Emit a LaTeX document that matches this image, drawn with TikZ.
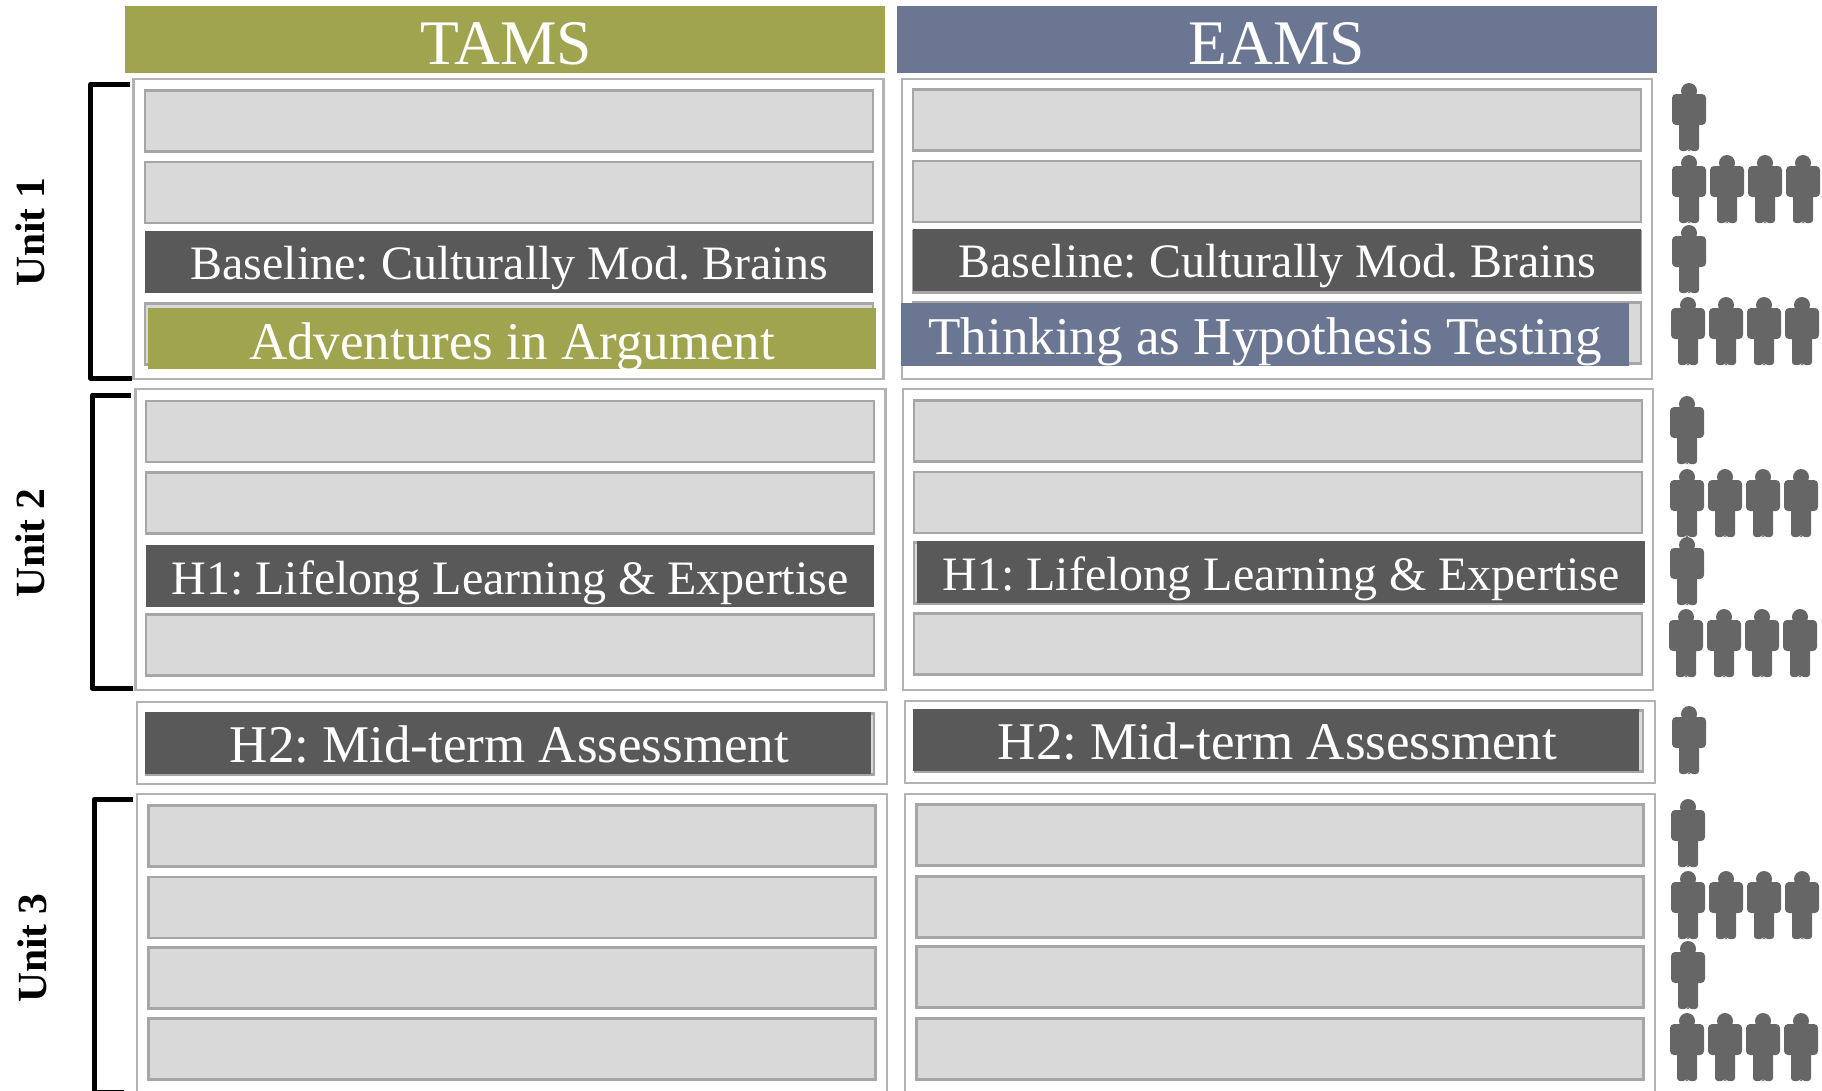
\documentclass[tikz,border=0pt]{standalone}
\usepackage{fontspec}
\setmainfont{Liberation Serif}
\usepackage{xcolor}
\frenchspacing
\definecolor{oliveband}{HTML}{A0A44E}
\definecolor{blueband}{HTML}{6B7693}
\definecolor{darkband}{HTML}{595959}
\definecolor{greyband}{HTML}{D9D9D9}
\definecolor{greyline}{HTML}{A6A6A6}
\definecolor{personcol}{HTML}{666666}
\tikzset{
  panel/.style={draw=greyline!85, line width=2.2pt, fill=white, minimum width=750pt, outer sep=0pt, inner sep=0pt},
  rowbox/.style={draw=greyline, line width=2.2pt, fill=greyband, minimum width=728pt, minimum height=61pt, outer sep=0pt, inner sep=0pt},
  band/.style={text=white, minimum height=62pt, minimum width=728pt, outer sep=0pt, inner sep=0pt, text height=44pt, text depth=9pt},
  headbox/.style={text=white, minimum width=760pt, minimum height=67pt, inner sep=0pt, text height=50pt, text depth=0pt, font=\fontsize{63.5}{63.5}\selectfont},
  darkbox/.style={band, fill=darkband, font=\fontsize{48}{48}\selectfont},
  unitlabel/.style={rotate=90, font=\fontsize{41.5}{41.5}\selectfont\bfseries, inner sep=0pt},
  bracket/.style={line width=5pt, line join=round},
  pics/person/.style={code={
    \fill[personcol] (0,8) circle (8);
    \fill[personcol, rounded corners=4pt] (-17,11) rectangle (17,42);
    \fill[personcol, rounded corners=3pt] (-10,30) -- (-10,68) -- (-1,68) -- (0,66) -- (1,68) -- (10,68) -- (10,30) -- cycle;
    \fill[personcol] (-5,10) rectangle (5,16);
  }}
}
\begin{document}
\begin{tikzpicture}[x=1pt,y=-1pt]
  \path[use as bounding box, clip] (0,0) rectangle (1822,1090);

  % column heads
  \node[headbox, fill=oliveband, text width=760pt, align=center] (tams) at (505,39.5) {\hspace*{3pt}TAMS};
  \node[headbox, fill=blueband] (eams) at (1277,39.5) {EAMS};

  % unit 1
  \node[panel, minimum height=300pt] (panelA) at (508.5,229) {};
  \node[panel, minimum height=300pt] (panelB) at (1277,229) {};
  \node[rowbox] (a1) at (509,121) {};
  \node[rowbox] (a2) at (509,192.5) {};
  \node[darkbox] (a3) at (509,262) {Baseline: Culturally Mod. Brains};
  \node[rowbox] (a4) at (509,334) {};
  \node[band, fill=oliveband, minimum height=61pt, text height=50pt, font=\fontsize{53}{53}\selectfont] (a5) at (512,338.5) {Adventures in Argument};
  \node[rowbox] (b1) at (1277,120) {};
  \node[rowbox] (b2) at (1277,191.5) {};
  \node[rowbox] (b3) at (1277,262) {};
  \node[darkbox] (b3t) at (1277,259.5) {Baseline: Culturally Mod. Brains};
  \node[rowbox] (b4) at (1277,333) {};
  \node[band, fill=blueband, minimum height=63pt, text height=48pt, font=\fontsize{53.1}{53.1}\selectfont] (b5) at (1265,334.5) {Thinking as Hypothesis Testing};

  % unit 2
  \node[panel, minimum height=301pt] (panelC) at (510.5,539.5) {};
  \node[panel, minimum height=301pt] (panelD) at (1278,539.5) {};
  \node[rowbox] (c1) at (510,431.5) {};
  \node[rowbox] (c2) at (510,503) {};
  \node[darkbox, text height=46pt] (c3) at (510,575.5) {H1: Lifelong Learning \& Expertise};
  \node[rowbox] (c4) at (510,645) {};
  \node[rowbox] (d1) at (1278,431) {};
  \node[rowbox] (d2) at (1278,502.5) {};
  \node[rowbox] (d3) at (1278,573) {};
  \node[darkbox, text height=46pt] (d3t) at (1281,572) {H1: Lifelong Learning \& Expertise};
  \node[rowbox] (d4) at (1278,644) {};

  % mid-term
  \node[panel, minimum height=82pt] (panelE) at (512,743) {};
  \node[panel, minimum height=82pt] (panelF) at (1280,742) {};
  \node[rowbox] (e0) at (510,744) {};
  \node[darkbox, minimum width=726pt, text height=48pt, font=\fontsize{53}{53}\selectfont] (e1) at (508,743) {\hspace*{3pt}H2: Mid-term Assessment};
  \node[rowbox] (f0) at (1279,741) {};
  \node[darkbox, minimum width=726pt, text height=48pt, font=\fontsize{53}{53}\selectfont] (f1) at (1276,740) {\hspace*{3pt}H2: Mid-term Assessment};

  % unit 3
  \node[panel, minimum height=320pt] (panelG) at (512,954) {};
  \node[panel, minimum height=320pt] (panelH) at (1280,954) {};
  \node[rowbox, minimum width=727pt] (g1) at (512,836) {};
  \node[rowbox, minimum width=727pt] (g2) at (512,907.5) {};
  \node[rowbox, minimum width=727pt] (g3) at (512,978) {};
  \node[rowbox, minimum width=727pt] (g4) at (512,1049) {};
  \node[rowbox, minimum width=727pt] (h1) at (1280,835) {};
  \node[rowbox, minimum width=727pt] (h2) at (1280,907) {};
  \node[rowbox, minimum width=727pt] (h3) at (1280,977) {};
  \node[rowbox, minimum width=727pt] (h4) at (1280,1049) {};

  % unit brackets
  \draw[bracket] (130,84.5) -- (90.5,84.5) -- (90.5,378) -- (132,378);
  \draw[bracket] (131,395) -- (92.5,395) -- (92.5,688.5) -- (133,688.5);
  \draw[bracket] (133,799) -- (94.5,799) -- (94.5,1092) -- (124,1092);
  \node[unitlabel] (unit1) at (30,232) {Unit 1};
  \node[unitlabel] (unit2) at (30,543) {Unit 2};
  \node[unitlabel] (unit3) at (32,948) {Unit 3};

  % people
  \foreach \px/\py in {1689/83, 1689/225, 1687/396, 1687/537, 1689/706, 1688/799, 1688/941}
    \pic at (\px,\py) {person};
  \foreach \py/\px in {155/1689, 297/1688, 469/1687, 609/1686, 871/1688, 1013/1687}
    \foreach \k in {0,1,2,3}
      \pic at ({\px+38*\k},\py) {person};
\end{tikzpicture}
\end{document}
